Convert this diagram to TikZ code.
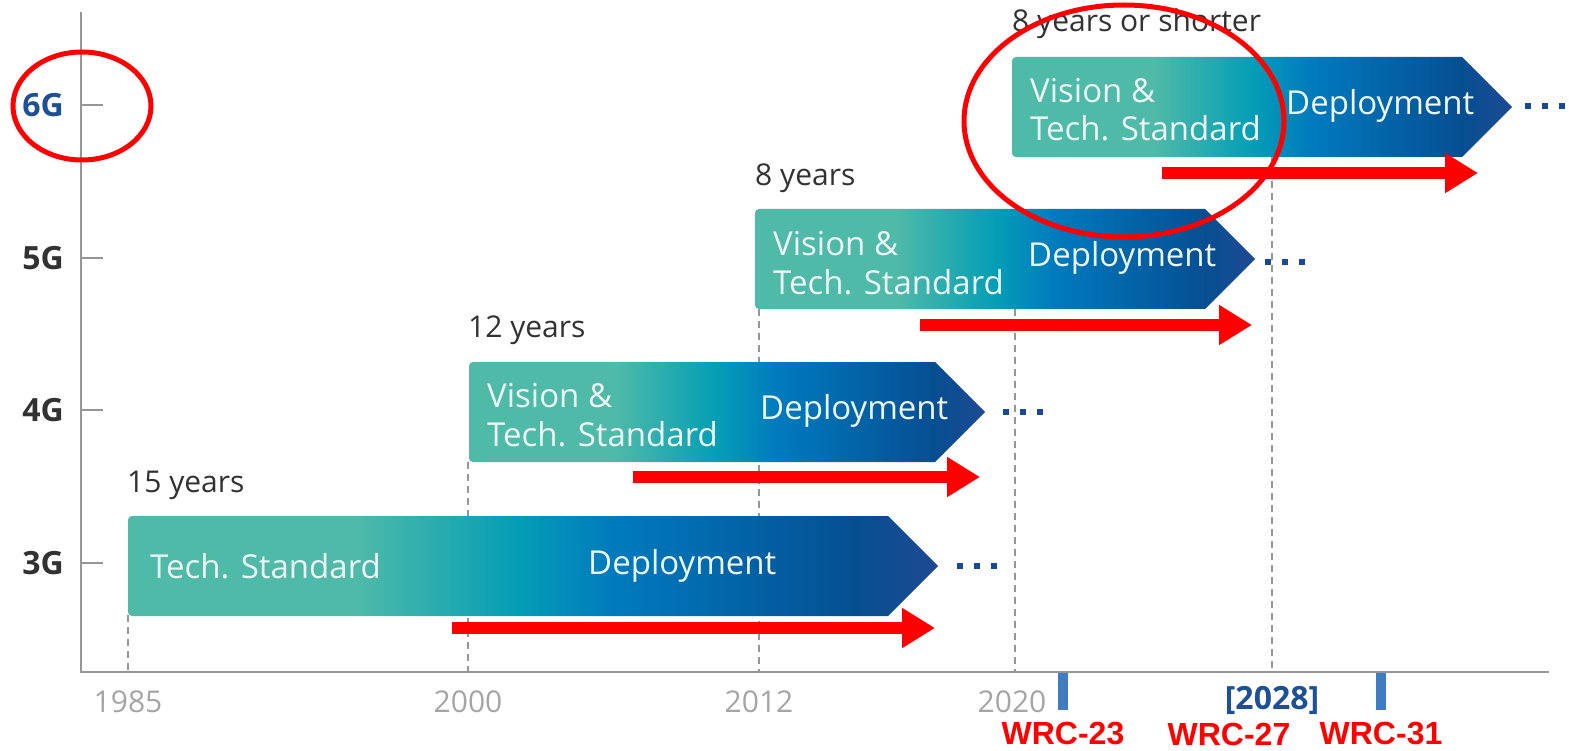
\documentclass[tikz,border=0pt]{standalone}
\usepackage{fontspec}
\setmainfont{Open Sans}
\newfontfamily\wrcfont{Liberation Sans}
\usetikzlibrary{arrows.meta}
\definecolor{cteal}{RGB}{80,186,168}
\definecolor{ccyan}{RGB}{4,158,182}
\definecolor{cblue}{RGB}{0,122,190}
\definecolor{cnavy}{RGB}{6,78,146}
\definecolor{ctip}{RGB}{30,74,146}
\definecolor{cdot}{RGB}{26,74,148}
\definecolor{caxis}{RGB}{150,150,150}
\definecolor{cyear}{RGB}{165,165,165}
\definecolor{clabel}{RGB}{50,50,50}
\definecolor{cbartext}{RGB}{236,246,246}
\definecolor{c6g}{RGB}{30,80,150}
\definecolor{cwrcbar}{RGB}{64,124,192}
\pgfdeclarehorizontalshading{bargrad}{100bp}{color(0bp)=(cteal); color(25bp)=(cteal); color(39bp)=(cteal); color(49bp)=(ccyan); color(55bp)=(cblue); color(70bp)=(cnavy); color(75bp)=(ctip); color(100bp)=(ctip)}
\tikzset{
  barshape/.style={shading=bargrad},
  bartext/.style={text=cbartext, font=\fontsize{33}{38}\selectfont, inner sep=0pt, anchor=west, align=left},
  durtext/.style={text=clabel, font=\fontsize{30}{34}\selectfont, inner sep=0pt, anchor=west},
  rowlabel/.style={text=clabel, font=\bfseries\fontsize{32}{36}\selectfont, inner sep=0pt, anchor=east},
  yearlabel/.style={text=cyear, font=\fontsize{30}{34}\selectfont, inner sep=0pt},
  wrclabel/.style={text=red, font=\wrcfont\bfseries\fontsize{32}{36}\selectfont, inner sep=0pt},
  axisline/.style={draw=caxis, line width=1.6pt},
  gridline/.style={draw=caxis, line width=1.2pt, dash pattern=on 7pt off 5pt},
  dotsline/.style={draw=cdot, line width=6pt, dash pattern=on 6pt off 11pt},
  redarrow/.style={draw=red, line width=12pt, -{Triangle[length=33pt,width=38pt]}},
  redring/.style={draw=red, line width=5pt},
  wrcbar/.style={fill=cwrcbar},
}
\newcommand\genbar[3]{% left, rect right, center y
  \shade[barshape] (#2+50,#3) -- (#2,#3+50) [rounded corners=4pt] -- (#1,#3+50) -- (#1,#3-50) [sharp corners] -- (#2,#3-50) -- cycle;
}
\begin{document}
\begin{tikzpicture}[x=1pt,y=-1pt]
\useasboundingbox (0,0) rectangle (1569,751);
% axes
\coordinate (ytop) at (81,12);
\coordinate (orig) at (81,672);
\coordinate (xend) at (1549,672);
\draw[axisline] (ytop) -- (orig) -- (xend);
\foreach \yy/\nm in {105/t6,258/t5,410/t4,563/t3}{
  \coordinate (\nm a) at (81,\yy);
  \coordinate (\nm b) at (103,\yy);
  \draw[axisline] (\nm a) -- (\nm b);
}
% grid lines
\foreach \xx/\yy/\nm in {128/615/g1,468/462/g2,759/309/g3,1015/309/g4,1272/157/g5}{
  \coordinate (\nm a) at (\xx,\yy);
  \coordinate (\nm b) at (\xx,672);
  \draw[gridline] (\nm a) -- (\nm b);
}
% bars
\genbar{128}{888}{566}
\genbar{469}{935}{412}
\genbar{755}{1205}{259}
\genbar{1012}{1462}{107}
% bar texts
\node[bartext] (b3a) at (150,566) {Tech. Standard};
\node[bartext] (b3b) at (588,566) {Deployment};
\node[bartext] (b4a) at (487,396) {Vision \&};
\node[bartext] (b4b) at (487,434) {Tech. Standard};
\node[bartext] (b4c) at (760,411) {Deployment};
\node[bartext] (b5a) at (773,244) {Vision \&};
\node[bartext] (b5b) at (773,282) {Tech. Standard};
\node[bartext] (b5c) at (1028,258) {Deployment};
\node[bartext] (b6a) at (1030,91) {Vision \&};
\node[bartext] (b6b) at (1030,128) {Tech. Standard};
\node[bartext] (b6c) at (1286,106) {Deployment};
% durations
\node[durtext] (d3) at (127,485) {15 years};
\node[durtext] (d4) at (468,330) {12 years};
\node[durtext] (d5) at (755,178) {8 years};
\node[durtext] (d6) at (1012,24) {8 years or shorter};
% dots
\foreach \xx/\yy/\nm in {957/566/p3,1003/412/p4,1265/262/p5,1525/106/p6}{
  \coordinate (\nm a) at (\xx,\yy);
  \coordinate (\nm b) at (\xx+40,\yy);
  \draw[dotsline] (\nm a) -- (\nm b);
}
% red arrows
\foreach \xa/\xb/\yy/\nm in {452/935/628/r3,633/980/477/r4,920/1252/325/r5,1162/1478/173/r6}{
  \coordinate (\nm a) at (\xa,\yy);
  \coordinate (\nm b) at (\xb,\yy);
  \draw[redarrow] (\nm a) -- (\nm b);
}
% row labels
\node[rowlabel, text=c6g] (l6) at (64,105) {6G};
\node[rowlabel] (l5) at (64,258) {5G};
\node[rowlabel] (l4) at (64,410) {4G};
\node[rowlabel] (l3) at (64,563) {3G};
% year labels
\node[yearlabel] (y1) at (128,702) {1985};
\node[yearlabel] (y2) at (468,702) {2000};
\node[yearlabel] (y3) at (759,702) {2012};
\node[yearlabel] (y4) at (1012,702) {2020};
\node[yearlabel, text=c6g, font=\bfseries\fontsize{32}{36}\selectfont] (y5) at (1272,700) {[2028]};
% WRC bars and labels
\fill[wrcbar] (1058,673) rectangle (1068,710);
\fill[wrcbar] (1376,673) rectangle (1386,710);
\node[wrclabel] (w1) at (1063,734) {WRC-23};
\node[wrclabel] (w2) at (1229,734) {WRC-27};
\node[wrclabel] (w3) at (1381,734) {WRC-31};
% red rings
\draw[redring] (82,106) ellipse [x radius=69, y radius=54];
\draw[redring] (1124,121) ellipse [x radius=160, y radius=116];
\end{tikzpicture}
\end{document}
